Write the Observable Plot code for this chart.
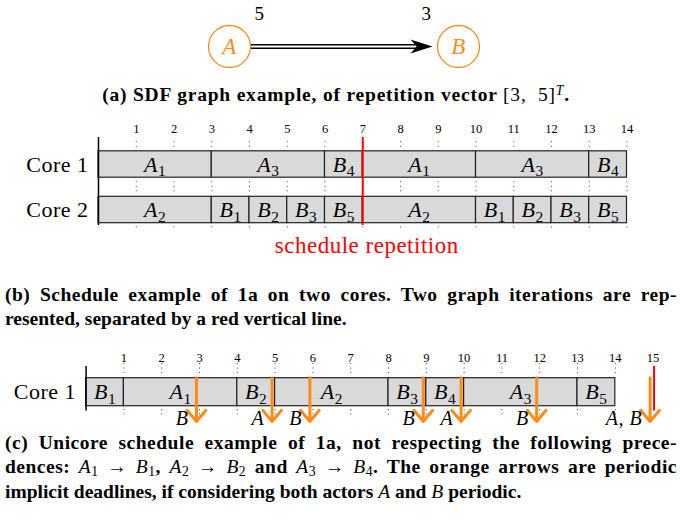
<!DOCTYPE html>
<html><head><meta charset="utf-8">
<script src="https://cdn.jsdelivr.net/npm/d3@7"></script>
<script src="https://cdn.jsdelivr.net/npm/@observablehq/plot@0.6"></script>
<style>
body{margin:0;background:#fff;}
#fig{position:relative;width:680px;height:529px;font-family:"Liberation Serif",serif;color:#000;overflow:hidden;}
#fig>svg{position:absolute;left:0;}
#fig svg g[aria-label="text"] text{letter-spacing:0.5px;}
.cap{position:absolute;font-weight:bold;font-size:19.5px;line-height:24.5px;white-space:nowrap;}
.jl{left:5px;width:672px;text-align:justify;text-align-last:justify;letter-spacing:0.5px;}
.ll{left:5px;}
.m{font-weight:normal;}
sub{font-size:0.7em;vertical-align:-0.25em;line-height:0;}
sup{font-size:0.7em;vertical-align:0.45em;line-height:0;}
</style></head>
<body><div id="fig"></div>
<script>
// ---- data ----
const nodes = ["A", "B"];
const rates = [5, 3];
const cores = ["Core 1", "Core 2"];
const core1Tasks = ["A1", "A3", "B4", "A1", "A3", "B4"];
const core1Durations = [3, 3, 1, 3, 3, 1];
const core2Tasks = ["A2", "B1", "B2", "B3", "B5", "A2", "B1", "B2", "B3", "B5"];
const core2Durations = [3, 1, 1, 1, 1, 3, 1, 1, 1, 1];
const scheduleTicks = [1,2,3,4,5,6,7,8,9,10,11,12,13,14];
const repetitionAt = 7;
const uniCores = ["Core 1"];
const uniTasks = ["B1", "A1", "B2", "A2", "B3", "B4", "A3", "B5"];
const uniDurations = [1, 3, 1, 3, 1, 1, 3, 1];
const uniTicks = [1,2,3,4,5,6,7,8,9,10,11,12,13,14,15];
const deadlines = [3, 5, 6, 9, 10, 12, 15];
const deadlineLabels = ["B", "A", "B", "B", "A", "B", "A, B"];
const uniEnd = 15;

const ORANGE = "#ff8c1a";
const ns = "http://www.w3.org/2000/svg";
const fig = document.getElementById("fig");

function segs(tasks, durs, row) {
  let t = 0;
  return tasks.map((task, i) => { const s = t; t += durs[i]; return {task, start: s, end: t, row}; });
}
function subscriptify(svg) {
  svg.querySelectorAll("text").forEach(t => {
    const m = /^([A-Z])(\d)$/.exec(t.textContent);
    if (!m) return;
    t.textContent = "";
    const a = document.createElementNS(ns, "tspan");
    a.textContent = m[1]; a.setAttribute("font-style", "italic");
    const b = document.createElementNS(ns, "tspan");
    b.textContent = m[2]; b.setAttribute("font-style", "normal");
    b.style.fontSize = "70%"; b.setAttribute("dy", "0.3em");
    t.append(a, b);
  });
}
function place(svg, top) { svg.style.top = top + "px"; fig.appendChild(svg); subscriptify(svg); }

const stealth = {
  draw(ctx, size) {
    const L = 22, W = 7;
    ctx.moveTo(0, 0);
    ctx.lineTo(-L, -W);
    ctx.quadraticCurveTo(-0.8 * L, -W * 0.3, -0.72 * L, 0);
    ctx.quadraticCurveTo(-0.8 * L, W * 0.3, -L, W);
    ctx.closePath();
  }
};

// ---- (a) SDF graph ----
const pa = Plot.plot({
  width: 680, height: 75, margin: 0,
  style: {fontFamily: "Liberation Serif", background: "transparent", overflow: "visible"},
  x: {domain: [0, 1], range: [229, 458], axis: null},
  y: {domain: [0, 1], range: [46, 13], axis: null},
  marks: [
    Plot.arrow([0], {x1: 0, x2: 1, y1: 0, y2: 0, insetStart: 21, insetEnd: 40, headLength: 0, stroke: "#000", strokeWidth: 5.2}),
    Plot.arrow([0], {x1: 0, x2: 1, y1: 0, y2: 0, insetStart: 21, insetEnd: 40, headLength: 0, stroke: "#fff", strokeWidth: 1.8}),
    Plot.dot([1], {x: 1, y: 0, dx: -26, r: 5, symbol: stealth, fill: "#000", stroke: "none"}),
    Plot.dot(nodes, {x: (d, i) => i, y: 0, r: 21, stroke: ORANGE, fill: "#fff", strokeWidth: 1.3}),
    Plot.text(nodes, {x: (d, i) => i, y: 0, text: d => d, fill: ORANGE, fontSize: 23, fontStyle: "italic"}),
    Plot.text([rates[0]], {x: 0, y: 1, text: d => String(d), dx: 30, fontSize: 19}),
    Plot.text([rates[1]], {x: 1, y: 1, text: d => String(d), dx: -32, fontSize: 19})
  ]
});
place(pa, 0);

// ---- (b) two-core schedule ----
const rowsB = [...segs(core1Tasks, core1Durations, 0), ...segs(core2Tasks, core2Durations, 1)];
const HB = 0.29;
const dot = {stroke: "#444", strokeWidth: 1, strokeDasharray: "1,3.5"};
const pb = Plot.plot({
  width: 680, height: 150,
  marginLeft: 98, marginRight: 53.5, marginTop: 27, marginBottom: 35,
  style: {fontFamily: "Liberation Serif", fontSize: "12.5px", background: "transparent", overflow: "visible"},
  x: {domain: [0, 14], axis: "top", ticks: scheduleTicks, tickSize: 0, tickPadding: 5, label: null},
  y: {domain: [0, 1], range: [54, 99.5], axis: null},
  marks: [
    Plot.ruleX(scheduleTicks, {x: d => d, y1: -0.5, y2: -0.33, ...dot}),
    Plot.ruleX(scheduleTicks, {x: d => d, y1: 0.38, y2: 0.6, ...dot}),
    Plot.ruleX(scheduleTicks, {x: d => d, y1: 1.37, y2: 1.47, ...dot}),
    Plot.rect(rowsB, {x1: "start", x2: "end", y1: d => d.row - HB, y2: d => d.row + HB, fill: "#d9d9d9", stroke: "#222", strokeWidth: 1.2}),
    Plot.text(rowsB, {x: d => (d.start + d.end) / 2, y: "row", text: "task", fontSize: 22}),
    Plot.ruleX([0], {stroke: "#000", strokeWidth: 1.5}),
    Plot.ruleX([repetitionAt], {stroke: "#f00", strokeWidth: 2}),
    Plot.text(["schedule repetition"], {x: repetitionAt, y: 1.78, dx: 4, text: d => d, fill: "#f00", fontSize: 23}),
    Plot.text(cores, {x: 0, y: (d, i) => i, text: d => d, textAnchor: "end", dx: -10, fontSize: 22})
  ]
});
place(pb, 110);

// ---- (c) unicore schedule ----
const rowsC = segs(uniTasks, uniDurations, 0);
const HC = 0.308;
const pc = Plot.plot({
  width: 680, height: 90,
  marginLeft: 85.6, marginRight: 27.4, marginTop: 26, marginBottom: 19.5,
  style: {fontFamily: "Liberation Serif", fontSize: "12.5px", background: "transparent", overflow: "visible"},
  x: {domain: [0, 15], axis: "top", ticks: uniTicks, tickSize: 0, tickPadding: 5, label: null},
  y: {domain: [0, 1], range: [51.7, 97.2], axis: null},
  marks: [
    Plot.ruleX(uniTicks.slice(0, 14), {x: d => d, y1: -0.63, y2: -0.36, ...dot}),
    Plot.ruleX(uniTicks.slice(0, 14), {x: d => d, y1: 0.38, y2: 0.5, ...dot}),
    Plot.rect(rowsC, {x1: "start", x2: "end", y1: d => d.row - HC, y2: d => d.row + HC, fill: "#d9d9d9", stroke: "#222", strokeWidth: 1.2}),
    Plot.text(rowsC, {x: d => (d.start + d.end) / 2, y: "row", text: "task", fontSize: 22}),
    Plot.ruleX([0], {stroke: "#000", strokeWidth: 1.5}),
    Plot.ruleX([uniEnd], {stroke: "#f00", strokeWidth: 2, dx: 1}),
    Plot.arrow(deadlines, {x1: d => d, x2: d => d, y1: -0.32, y2: 0.645, dx: -3, stroke: ORANGE, strokeWidth: 3, headLength: 10, headAngle: 80}),
    Plot.text(deadlines, {x: d => d, y: 0.57, dx: -11, text: (d, i) => deadlineLabels[i], textAnchor: "end", fontSize: 20, fontStyle: "italic"}),
    Plot.text(uniCores, {x: 0, y: (d, i) => i, text: d => d, textAnchor: "end", dx: -10, fontSize: 22})
  ]
});
place(pc, 340);

// ---- captions ----
function cap(cls, top, html) {
  const d = document.createElement("div");
  d.className = "cap " + cls; d.style.top = top + "px"; d.innerHTML = html;
  fig.appendChild(d); return d;
}
const ca = cap("", 82.75, '(a) SDF graph example, of repetition vector <span class="m">[3,&nbsp; 5]<sup><i>T</i></sup></span>.');
ca.style.left = "0px"; ca.style.width = "672px"; ca.style.textAlign = "center"; ca.style.letterSpacing = "0.8px";
cap("jl", 282.75, "(b) Schedule example of 1a on two cores. Two graph iterations are rep-");
cap("ll", 307.25, "resented, separated by a red vertical line.");
cap("jl", 430.75, "(c) Unicore schedule example of 1a, not respecting the following prece-");
cap("jl", 455.25, 'dences: <span class="m"><i>A</i><sub>1</sub> → <i>B</i><sub>1</sub></span>, <span class="m"><i>A</i><sub>2</sub> → <i>B</i><sub>2</sub></span> and <span class="m"><i>A</i><sub>3</sub> → <i>B</i><sub>4</sub></span>. The orange arrows are periodic');
cap("ll", 479.75, 'implicit deadlines, if considering both actors <span class="m"><i>A</i></span> and <span class="m"><i>B</i></span> periodic.');
</script>
</body></html>
